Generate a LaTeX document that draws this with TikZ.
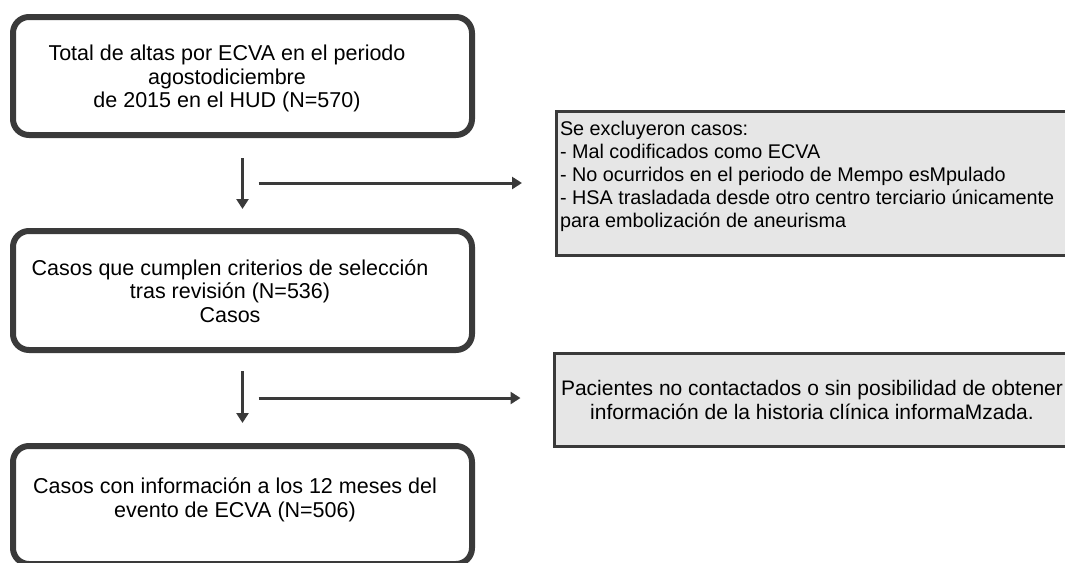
\documentclass[tikz,border=0pt]{standalone}
\usepackage{fontspec}
\setmainfont{Liberation Sans}
\usetikzlibrary{arrows.meta,calc}

\definecolor{borde}{HTML}{3A3A3A}
\definecolor{relleno}{HTML}{E6E6E6}
% texto en una tabla con base abajo
\newcommand{\cajatexto}[2]{\begin{tabular}[b]{@{}#1@{}}#2\end{tabular}}

\begin{document}
\begin{tikzpicture}[x=1pt, y=-1pt,
    main_box/.style={draw=borde, line width=6pt, rounded corners=16pt,
        minimum width=459pt, minimum height=118pt, inner sep=0pt,
        font=\fontsize{21.5}{23.5}\selectfont},
    excl_box/.style={draw=borde, fill=relleno, line width=3pt},
    flow_arrow/.style={draw=borde, line width=3pt, -{Triangle[length=10pt, width=12pt]}}
]
    \useasboundingbox (0,0) rectangle (1065,562);
    \clip (0,0) rectangle (1065,562);
    % Cajas principales
    \node[main_box, text depth=0pt] (total) at (242.5, 76)
        {\cajatexto{c@{\hspace{31pt}}}{Total de altas por ECVA en el periodo\\agostodiciembre\\de 2015 en el HUD (N=570)}};
    \node[main_box, minimum height=119pt, text depth=0pt] (select) at (242.5, 290.5)
        {\cajatexto{c@{\hspace{25pt}}}{Casos que cumplen criterios de selección\\tras revisión (N=536)\\Casos}};
    \node[main_box, text depth=15pt] (final) at (242.5, 505)
        {\cajatexto{c@{\hspace{15pt}}}{Casos con información a los 12 meses del\\evento de ECVA (N=506)}};
    % Casos excluidos
    \node[excl_box, anchor=west, inner xsep=4pt, minimum height=144pt, text depth=20pt,
        font=\fontsize{19.8}{22.8}\selectfont] (excl) at (554.5, 183.5)
        {\cajatexto{p{525pt}}{Se excluyeron casos:\\- Mal codificados como ECVA\\- No ocurridos en el periodo de Mempo esMpulado\\- HSA trasladada desde otro centro terciario únicamente\\para embolización de aneurisma}};
    \node[excl_box, minimum width=515pt, minimum height=93pt, inner xsep=2pt, align=center,
        font=\fontsize{21}{23.5}\selectfont] (nocont) at (812, 400)
        {Pacientes no contactados o sin posibilidad de obtener\\información de la historia clínica informaMzada.};
    % Flechas
    \coordinate (cruce1) at ($(total.south)!0.5!(select.north)$);
    \coordinate (cruce2) at ($(select.south)!0.5!(final.north)$);
    \draw[flow_arrow, shorten <=20pt, shorten >=19pt] (total) -- (select);
    \draw[flow_arrow, shorten <=16pt, shorten >=32.5pt] (cruce1) -- (cruce1 -| excl.west);
    \draw[flow_arrow, shorten <=18pt, shorten >=20pt] (select) -- (final);
    \draw[flow_arrow, shorten <=16pt, shorten >=32.5pt] (cruce2) -- (cruce2 -| nocont.west);
\end{tikzpicture}
\end{document}
